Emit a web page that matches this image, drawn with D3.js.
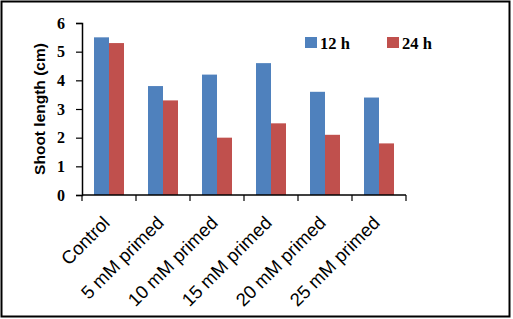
<!DOCTYPE html>
<html>
<head>
<meta charset="utf-8">
<script src="https://cdn.jsdelivr.net/npm/d3@7"></script>
<style>
	body { margin: 0; background: #fff; }
	svg { display: block; }
</style>
</head>
<body>
<div id="chart"></div>
<script>
var categories = ["Control", "5 mM primed", "10 mM primed", "15 mM primed", "20 mM primed", "25 mM primed"];
var series12h = [5.5, 3.8, 4.2, 4.6, 3.6, 3.4];
var series24h = [5.3, 3.3, 2.0, 2.5, 2.1, 1.8];
var seriesNames = ["12 h", "24 h"];
var seriesColors = ["#4f81bd", "#c0504d"];
var yTicks = [0, 1, 2, 3, 4, 5, 6];

var width = 513,
	height = 319,
	x0 = 82, x1 = 406,
	y0 = 195, y1 = 23;

var svg = d3.select("#chart").append("svg")
	.attr("width", width)
	.attr("height", height);

// outer frame
svg.append("rect")
	.attr("x", 1.5).attr("y", 1.5)
	.attr("width", 508).attr("height", 315)
	.attr("fill", "#fff")
	.attr("stroke", "#000")
	.attr("stroke-width", 2);

var x = d3.scaleBand()
	.domain(categories)
	.range([x0, x1])
	.paddingInner(0)
	.paddingOuter(0);

var y = d3.scaleLinear()
	.domain([0, 6])
	.range([y0, y1]);

var xs = d3.scaleBand()
	.domain(seriesNames)
	.range([0, x.bandwidth()])
	.paddingInner(0)
	.paddingOuter(0.8);

var data = categories.map(function (c, i) {
	return { cat: c, vals: [series12h[i], series24h[i]] };
});

var groups = svg.append("g")
	.selectAll("g")
	.data(data)
	.join("g")
	.attr("transform", function (d) { return "translate(" + x(d.cat) + ",0)"; });

groups.selectAll("rect")
	.data(function (d) {
		return d.vals.map(function (v, j) { return { name: seriesNames[j], v: v, c: seriesColors[j] }; });
	})
	.join("rect")
	.attr("x", function (d) { return xs(d.name); })
	.attr("width", xs.bandwidth())
	.attr("y", function (d) { return y(d.v); })
	.attr("height", function (d) { return y0 - y(d.v); })
	.attr("fill", function (d) { return d.c; });

// y axis
var yAxis = svg.append("g")
	.attr("transform", "translate(" + x0 + ",0)")
	.call(d3.axisLeft(y).tickValues(yTicks).tickSize(6).tickPadding(11).tickFormat(d3.format("d")));
yAxis.select(".domain").attr("stroke", "#000").attr("stroke-width", 1.5);
yAxis.selectAll(".tick line").attr("stroke", "#000").attr("stroke-width", 1.2);
yAxis.selectAll("text")
	.attr("fill", "#000")
	.style("font", "bold 16px 'Liberation Serif', serif");

// x axis
var xAxis = svg.append("g")
	.attr("transform", "translate(0," + y0 + ")");
xAxis.append("line")
	.attr("x1", x0).attr("x2", x1)
	.attr("stroke", "#000").attr("stroke-width", 1.5);
xAxis.selectAll("line.tk")
	.data(categories.concat([null]))
	.join("line")
	.attr("class", "tk")
	.attr("x1", function (d) { return d === null ? x1 : x(d); })
	.attr("x2", function (d) { return d === null ? x1 : x(d); })
	.attr("y1", 0).attr("y2", 6)
	.attr("stroke", "#000").attr("stroke-width", 1.2);
xAxis.selectAll("text")
	.data(categories)
	.join("text")
	.attr("transform", function (d) {
		return "translate(" + (x(d) + x.bandwidth() / 2 + 2) + ",29) rotate(-45)";
	})
	.attr("text-anchor", "end")
	.attr("fill", "#000")
	.style("font", "18.5px 'Liberation Sans', sans-serif")
	.text(function (d) { return d; });

// y title
svg.append("text")
	.attr("transform", "translate(45," + ((y0 + y1) / 2) + ") rotate(-90)")
	.attr("text-anchor", "middle")
	.attr("fill", "#000")
	.style("font", "bold 15.5px 'Liberation Sans', sans-serif")
	.text("Shoot length (cm)");

// legend
var legend = svg.append("g")
	.selectAll("g")
	.data(seriesNames)
	.join("g")
	.attr("transform", function (d, i) { return "translate(" + (305 + i * 82) + ",37)"; });
legend.append("rect")
	.attr("width", 12).attr("height", 11)
	.attr("fill", function (d, i) { return seriesColors[i]; });
legend.append("text")
	.attr("x", 15).attr("y", 11.5)
	.attr("fill", "#000")
	.style("font", "bold 16.5px 'Liberation Serif', serif")
	.text(function (d) { return d; });
</script>
</body>
</html>
